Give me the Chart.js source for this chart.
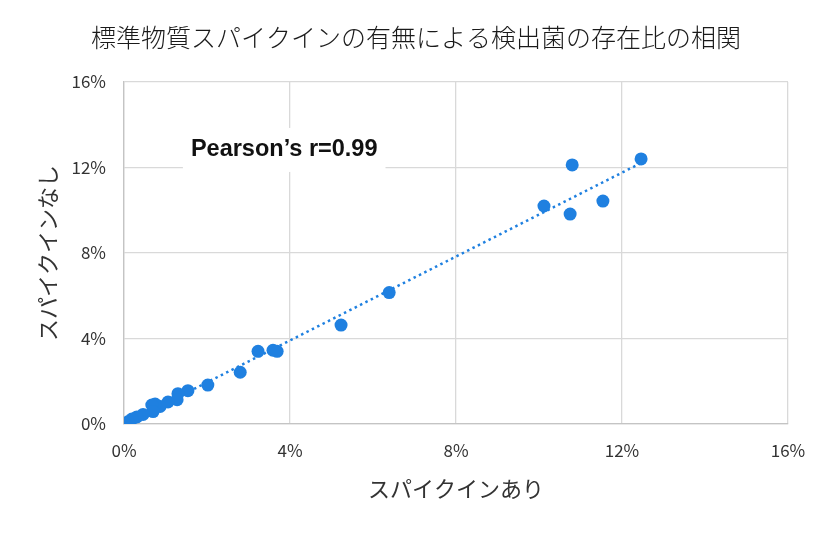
<!DOCTYPE html>
<html><head><meta charset="utf-8">
<script src="https://cdn.jsdelivr.net/npm/chart.js@4/dist/chart.umd.min.js"></script>
<style>html,body{margin:0;padding:0;background:#fff}#wrap{width:829px;height:533px}</style>
</head><body><div id="wrap"><canvas id="c" width="829" height="533"></canvas></div>
<script>
const titleText = '標準物質スパイクインの有無による検出菌の存在比の相関';
const xTitle = 'スパイクインあり';
const yTitle = 'スパイクインなし';
const annotationText = 'Pearson’s r=0.99';
const tickValues = [0, 4, 8, 12, 16];
// abundance with spike-in (%)
const withSpike = [12.46, 10.80, 10.12, 10.75, 11.54, 6.39, 5.23, 3.23, 3.59, 3.69, 2.80, 2.02, 1.54, 1.30, 1.28, 1.06, 0.87, 0.75, 0.67, 0.70, 0.46, 0.31, 0.19, 0.10, 0.03, 0.01];
// abundance without spike-in (%)
const withoutSpike = [12.40, 12.12, 10.20, 9.82, 10.43, 6.15, 4.63, 3.40, 3.45, 3.40, 2.42, 1.82, 1.56, 1.42, 1.14, 1.03, 0.82, 0.93, 0.89, 0.58, 0.45, 0.33, 0.23, 0.10, 0.02, 0.00];

const pts = withSpike.map((x, i) => ({x, y: withoutSpike[i]}));
// least-squares trendline from the data
const n = pts.length;
const mx = withSpike.reduce((a,b)=>a+b,0)/n, my = withoutSpike.reduce((a,b)=>a+b,0)/n;
let sxy=0, sxx=0;
pts.forEach(p=>{sxy+=(p.x-mx)*(p.y-my); sxx+=(p.x-mx)**2;});
const slope = sxy/sxx, icpt = my - slope*mx;
const xMin = Math.min(...withSpike), xMax = Math.max(...withSpike);
const trend = [{x:xMin, y:icpt+slope*xMin},{x:xMax, y:icpt+slope*xMax}];

const blue = '#1f80e0';
const JP = '"Noto Sans CJK JP", "Noto Sans", sans-serif';

const overlay = {
  id:'overlay',
  afterDraw(chart){
    const ctx = chart.ctx;
    ctx.save();
    ctx.fillStyle = '#1a1a1a';
    ctx.font = '300 25px ' + JP;
    ctx.textAlign = 'center'; ctx.textBaseline = 'middle';
    ctx.fillText(titleText, 416, 37);
    ctx.restore();
  },
  beforeDatasetsDraw(chart){
    const ctx = chart.ctx, xs = chart.scales.x, ys = chart.scales.y;
    ctx.save();
    ctx.font = 'bold 23.5px "Liberation Sans", Arial, sans-serif';
    const cx = xs.getPixelForValue(3.86), cy = ys.getPixelForValue(12.82);
    const w = ctx.measureText(annotationText).width;
    ctx.fillStyle = '#fff';
    ctx.fillRect(cx - w/2 - 8, cy - 22, w + 16, 44);
    ctx.fillStyle = '#111';
    ctx.textAlign = 'center'; ctx.textBaseline = 'middle';
    ctx.fillText(annotationText, cx, cy);
    ctx.restore();
  }
};

new Chart(document.getElementById('c'), {
  type:'scatter',
  data:{datasets:[
    {label:'trend', data:trend, type:'line', showLine:true, borderColor:blue, borderWidth:2.5, borderDash:[2.5,3.5], pointRadius:0, fill:false, order:2},
    {label:'data', data:pts, backgroundColor:blue, borderColor:blue, pointRadius:6.5, pointHoverRadius:6.5, borderWidth:0, order:1}
  ]},
  options:{
    responsive:false, animation:false,
    layout:{padding:{left:30, right:41, top:82, bottom:27}},
    plugins:{legend:{display:false}, tooltip:{enabled:false}, title:{display:false}},
    scales:{
      x:{type:'linear', min:0, max:16,
        afterBuildTicks(s){ s.ticks = tickValues.map(v=>({value:v})); },
        afterFit(s){ s.height = 82; },
        grid:{color:'#d9d9d9', lineWidth:1.3, drawTicks:false},
        border:{color:'#c4c4c4', width:1.3},
        ticks:{padding:16, color:'#333', font:{family:JP, size:17}, callback:v=>v+'%'},
        title:{display:true, text:xTitle, color:'#333', font:{family:JP, size:22}, padding:{top:4}}
      },
      y:{type:'linear', min:0, max:16,
        afterBuildTicks(s){ s.ticks = tickValues.map(v=>({value:v})); },
        afterFit(s){ s.width = 94; },
        grid:{color:'#d9d9d9', lineWidth:1.3, drawTicks:false},
        border:{color:'#c4c4c4', width:1.3},
        ticks:{padding:18, color:'#333', font:{family:JP, size:17}, callback:v=>v+'%'},
        title:{display:true, text:yTitle, color:'#333', font:{family:JP, size:22}, padding:{bottom:4}}
      }
    }
  },
  plugins:[overlay]
});
</script></body></html>
